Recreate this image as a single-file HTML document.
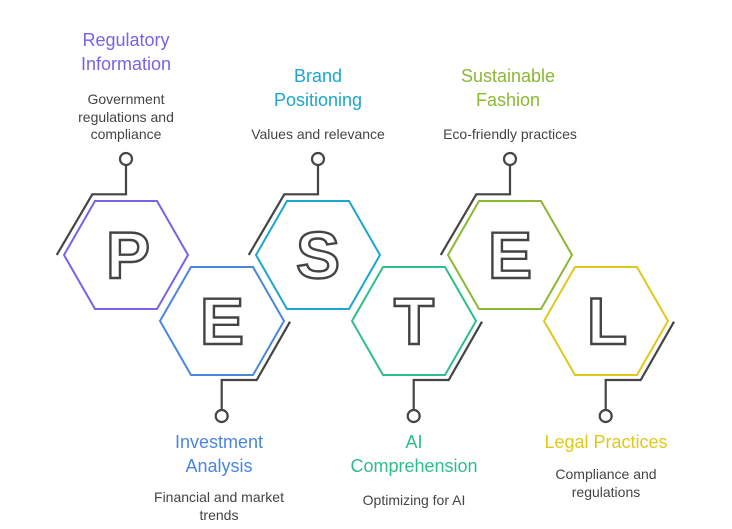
<!DOCTYPE html>
<html><head><meta charset="utf-8"><style>
html,body{margin:0;padding:0;background:#fff;width:732px;height:529px;overflow:hidden}
svg text{font-family:"Liberation Sans",sans-serif}
.t{font-size:18px;text-anchor:middle}
.d{font-size:14px;fill:#444;text-anchor:middle}
.L{font-size:66px;font-weight:bold;fill:#fff;stroke:#444;stroke-width:2.4;text-anchor:middle}
.c{fill:none;stroke:#444;stroke-width:2.2}
.h{fill:none;stroke-width:2}
</style></head><body>
<svg width="732" height="529" viewBox="0 0 732 529" xmlns="http://www.w3.org/2000/svg">
<g class="c">
<polyline points="56.7,255 92.3,194.3 126,194.3 126,165"/><circle cx="126" cy="159" r="6" fill="#fff"/>
<polyline points="248.7,255 284.3,194.3 318,194.3 318,165"/><circle cx="318" cy="159" r="6" fill="#fff"/>
<polyline points="440.7,255 476.3,194.3 510,194.3 510,165"/><circle cx="510" cy="159" r="6" fill="#fff"/>
<polyline points="290,321.7 256.7,380 221.7,380 221.7,410"/><circle cx="221.7" cy="416" r="6" fill="#fff"/>
<polyline points="482,321.7 448.7,380 413.7,380 413.7,410"/><circle cx="413.7" cy="416" r="6" fill="#fff"/>
<polyline points="674,321.7 640.7,380 605.7,380 605.7,410"/><circle cx="605.7" cy="416" r="6" fill="#fff"/>
</g>
<polygon class="h" stroke="#7B61E8" points="64,255 95,201 157,201 188,255 157,309 95,309"/>
<polygon class="h" stroke="#4A86E0" points="160,321 191,267 253,267 284,321 253,375 191,375"/>
<polygon class="h" stroke="#1AA6D0" points="256,255 287,201 349,201 380,255 349,309 287,309"/>
<polygon class="h" stroke="#2DBE8A" points="352,321 383,267 445,267 476,321 445,375 383,375"/>
<polygon class="h" stroke="#8AB833" points="448,255 479,201 541,201 572,255 541,309 479,309"/>
<polygon class="h" stroke="#E0C81A" points="544,321 575,267 637,267 668,321 637,375 575,375"/>
<text class="L" x="128" y="278">P</text>
<text class="L" x="222" y="344">E</text>
<text class="L" x="318" y="278">S</text>
<text class="L" x="414" y="344">T</text>
<text class="L" x="510" y="278">E</text>
<text class="L" x="607" y="344">L</text>
<text class="t" fill="#7B61E8" x="126" y="46">Regulatory</text>
<text class="t" fill="#7B61E8" x="126" y="70">Information</text>
<text class="d" x="126" y="104">Government</text>
<text class="d" x="126" y="122">regulations and</text>
<text class="d" x="126" y="139">compliance</text>
<text class="t" fill="#1AA6D0" x="318" y="82">Brand</text>
<text class="t" fill="#1AA6D0" x="318" y="106">Positioning</text>
<text class="d" x="318" y="139">Values and relevance</text>
<text class="t" fill="#8AB833" x="508" y="82">Sustainable</text>
<text class="t" fill="#8AB833" x="508" y="106">Fashion</text>
<text class="d" x="510" y="139">Eco-friendly practices</text>
<text class="t" fill="#4A86E0" x="219" y="448">Investment</text>
<text class="t" fill="#4A86E0" x="219" y="472">Analysis</text>
<text class="d" x="219" y="502">Financial and market</text>
<text class="d" x="219" y="520">trends</text>
<text class="t" fill="#2DBE8A" x="414" y="448">AI</text>
<text class="t" fill="#2DBE8A" x="414" y="472">Comprehension</text>
<text class="d" x="414" y="505">Optimizing for AI</text>
<text class="t" fill="#E0C81A" x="606" y="448">Legal Practices</text>
<text class="d" x="606" y="479">Compliance and</text>
<text class="d" x="606" y="497">regulations</text>
</svg>
</body></html>
